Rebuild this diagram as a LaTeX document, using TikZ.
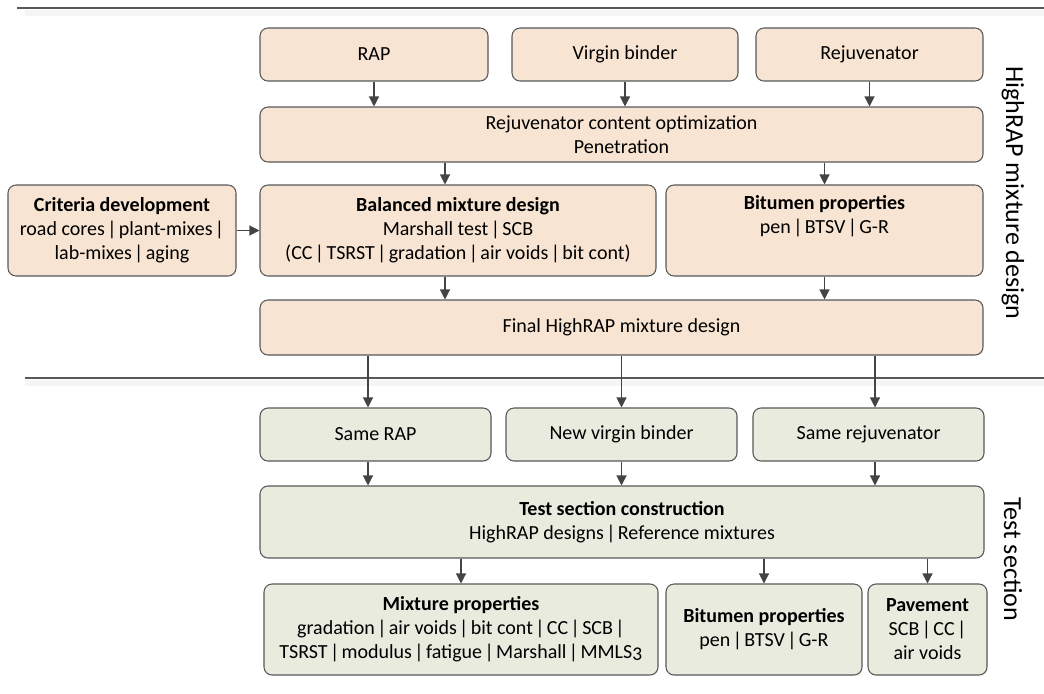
\documentclass[tikz,border=0pt]{standalone}
\usepackage{fontspec}
\setmainfont{Carlito}
\usepackage{tikz}
\usetikzlibrary{arrows.meta,positioning,calc}
\usepackage{xcolor}
\definecolor{peach}{RGB}{248,228,210}
\definecolor{sage}{RGB}{233,235,222}
\definecolor{edgegrey}{RGB}{88,88,88}
\definecolor{arrowgrey}{RGB}{68,68,68}
\newcommand{\osf}[1]{{\addfontfeature{Numbers=OldStyle}#1}}
\newcommand{\splitbar}{\hspace{0.12em}|\hspace{0.12em}}
\tikzset{sz/.style 2 args={minimum width=#1*0.75pt, minimum height=#2*0.75pt}}

\begin{document}
\begin{tikzpicture}[
    x=0.75pt, y=-0.75pt,
    box/.style={rectangle, draw=edgegrey, line width=0.8pt, rounded corners=6pt,
        inner sep=0pt, align=center, font=\fontsize{15}{18}\selectfont},
    design/.style={box, fill=peach},
    section/.style={box, fill=sage},
    arr/.style={-{Triangle[length=7.5pt, width=7.5pt]}, line width=0.9pt, arrowgrey},
    sidelabel/.style={rotate=-90, font=\fontsize{19.5}{22}\selectfont},
    divider/.style={line width=1pt, edgegrey}
]
    \useasboundingbox (0,0) rectangle (1044,693);

    % Phase dividers
    \fill[black!4] (25,10) rectangle (1044,16);
    \draw[divider] (17,8) -- (1044,8);
    \fill[black!4] (25,380) rectangle (1044,386);
    \draw[divider] (25,378) -- (1044,378);

    % Mixture design phase
    \node[design, sz={228}{53}] (rap) at (374,54.5) {RAP};
    \node[design, sz={226}{53}] (vb) at (625,54.5) {Virgin binder};
    \node[design, sz={227}{53}] (rej) at (869.5,54.5) {Rejuvenator};
    \node[design, sz={723}{55}] (opt) at (621.5,134.5)
        {Rejuvenator content optimization\\ Penetration};
    \node[design, sz={228}{91}] (crit) at (122,230.5)
        {\textbf{Criteria development}\\ road cores\splitbar plant-mixes\splitbar\\ lab-mixes\splitbar aging};
    \node[design, sz={396}{91}] (bal) at (458,230.5)
        {\textbf{Balanced mixture design}\\ Marshall test\splitbar SCB\\
         (CC\splitbar TSRST\splitbar gradation\splitbar air voids\splitbar bit cont)};
    \node[design, sz={317}{91}] (bit) at (824.5,230.5)
        {\textbf{Bitumen properties}\\ pen\splitbar BTSV\splitbar G-R\\ \strut};
    \node[design, sz={723}{55}] (fin) at (621.5,327.5) {Final HighRAP mixture design};

    \coordinate (balx) at (445,0);
    \draw[arr] (rap) -- (rap |- opt.north);
    \draw[arr] (vb) -- (vb |- opt.north);
    \draw[arr] (rej) -- (rej |- opt.north);
    \draw[arr] (balx |- opt.south) -- (balx |- bal.north);
    \draw[arr] (opt.south -| bit) -- (bit);
    \draw[arr] (crit) -- (bal);
    \draw[arr] (balx |- bal.south) -- (balx |- fin.north);
    \draw[arr] (bit) -- (bit |- fin.north);

    \node[sidelabel] (lbldesign) at (1013,193) {HighRAP mixture design};

    % Test section phase
    \node[section, sz={231}{53}] (srap) at (375.5,434.5) {Same RAP};
    \node[section, sz={231}{53}] (nvb) at (621.5,434.5) {New virgin binder};
    \node[section, sz={231}{53}] (srej) at (868.5,434.5) {Same rejuvenator};
    \node[section, sz={724}{72}] (tsc) at (622,522)
        {\textbf{Test section construction}\\ HighRAP designs\splitbar Reference mixtures};
    \node[section, sz={394}{91}] (mix) at (461,629.5)
        {\textbf{Mixture properties}\\ gradation\splitbar air voids\splitbar bit cont\splitbar CC\splitbar SCB\splitbar\\
         TSRST\splitbar modulus\splitbar fatigue\splitbar Marshall\splitbar MMLS\osf{3}};
    \node[section, sz={196}{91}] (bit2) at (764,629.5)
        {\textbf{Bitumen properties}\\ pen\splitbar BTSV\splitbar G-R};
    \node[section, sz={119}{91}] (pav) at (927.5,629.5)
        {\textbf{Pavement}\\ SCB\splitbar CC\splitbar\\ air voids};

    \coordinate (lx) at (368,0);
    \coordinate (rx) at (875,0);
    \draw[arr] (lx |- fin.south) -- (lx |- srap.north);
    \draw[arr] (fin.south -| nvb) -- (nvb);
    \draw[arr] (rx |- fin.south) -- (rx |- srej.north);
    \draw[arr] (lx |- srap.south) -- (lx |- tsc.north);
    \draw[arr] (nvb) -- (nvb |- tsc.north);
    \draw[arr] (rx |- srej.south) -- (rx |- tsc.north);
    \draw[arr] (tsc.south -| mix) -- (mix);
    \draw[arr] (tsc.south -| bit2) -- (bit2);
    \draw[arr] (tsc.south -| pav) -- (pav);

    \node[sidelabel] (lbltest) at (1013,559) {Test section};
\end{tikzpicture}
\end{document}
